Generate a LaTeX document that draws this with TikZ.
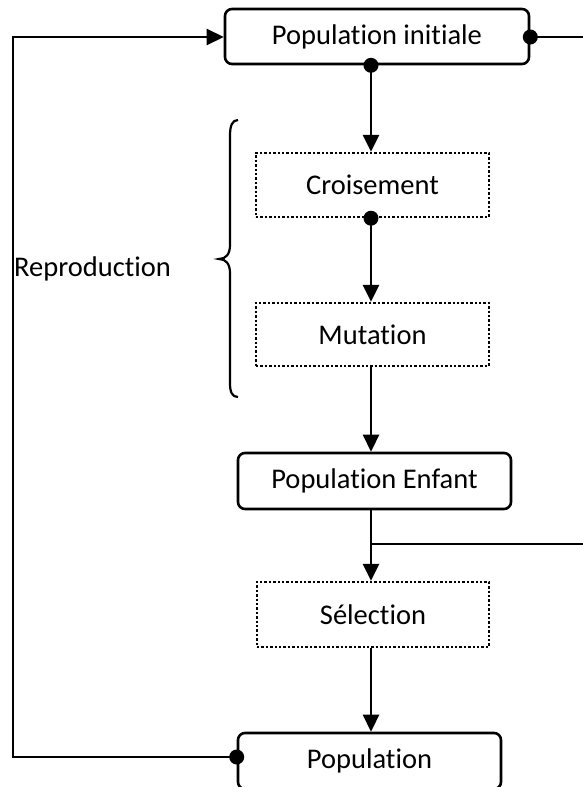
\documentclass[tikz,border=0pt]{standalone}
\usepackage{fontspec}
\setmainfont{Carlito}[Ligatures={NoCommon}]
\usetikzlibrary{arrows.meta}
\begin{document}
\begin{tikzpicture}[x=1pt,y=-1pt,
  every node/.style={font=\fontsize{28.5}{34}\selectfont},
  solidbox/.style={draw,line width=2.6pt,rounded corners=7pt,inner sep=0pt},
  dotbox/.style={draw,line width=2.4pt,dash pattern=on 2.4pt off 2pt,inner sep=0pt},
  link/.style={line width=2.6pt},
  arr/.style={link,-{Triangle[length=17pt,width=16pt]}},
  dot/.style={fill=black}
]
\clip (0,0) rectangle (583,787);
\fill[white] (0,0) rectangle (583,787);

% column of the vertical connectors and free ends on the right
\coordinate (col) at (371,0);
\coordinate (rtop) at (583,37);
\coordinate (rmid) at (583,544);
\coordinate (loopb) at (13,757);
\coordinate (loopt) at (13,37);

% boxes
\node[solidbox,minimum width=304pt,minimum height=55pt] (pi) at (377,36.5) {Population initiale};
\node[dotbox,minimum width=233pt,minimum height=64pt] (cr) at (372.5,185) {Croisement};
\node[dotbox,minimum width=233pt,minimum height=63pt] (mu) at (372.5,334.5) {Mutation};
\node[solidbox,minimum width=273pt,minimum height=56pt] (pe) at (374.5,481) {Population Enfant};
\node[dotbox,minimum width=232pt,minimum height=65pt] (se) at (373,614.5) {Sélection};
\node[solidbox,minimum width=263pt,minimum height=56pt] (po) at (369.5,761) {Population};

% label and brace
\node[anchor=west,inner sep=0pt] (rep) at (14,269) {Reproduction};
\draw[line width=2.2pt] (238,120) .. controls (232,120) and (230,126) .. (230,136)
  -- (230,245) .. controls (230,254) and (226,259) .. (219,259)
  .. controls (226,259) and (230,264) .. (230,273)
  -- (230,383) .. controls (230,392) and (232,397) .. (238,397);

% main flow
\draw[arr] (pi.south -| col) -- (cr.north -| col);
\fill[dot] (pi.south -| col) circle (7.5pt);
\draw[arr] (cr.south -| col) -- (mu.north -| col);
\fill[dot] (cr.south -| col) circle (7.5pt);
\draw[arr] (mu.south -| col) -- (pe.north -| col);
\draw[arr] (pe.south -| col) -- (se.north -| col);
\draw[link] (rmid -| col) -- (rmid);
\draw[arr] (se.south -| col) -- (po.north -| col);

% loop back to the initial population
\draw[arr] (po.west |- loopb) -- (loopb) -- (loopt) -- (pi.west |- loopt);
\fill[dot] (po.west |- loopb) circle (7.5pt);

% exit on the right
\draw[link] (pi.east |- rtop) -- (rtop);
\fill[dot] (pi.east |- rtop) circle (7.5pt);
\end{tikzpicture}
\end{document}
